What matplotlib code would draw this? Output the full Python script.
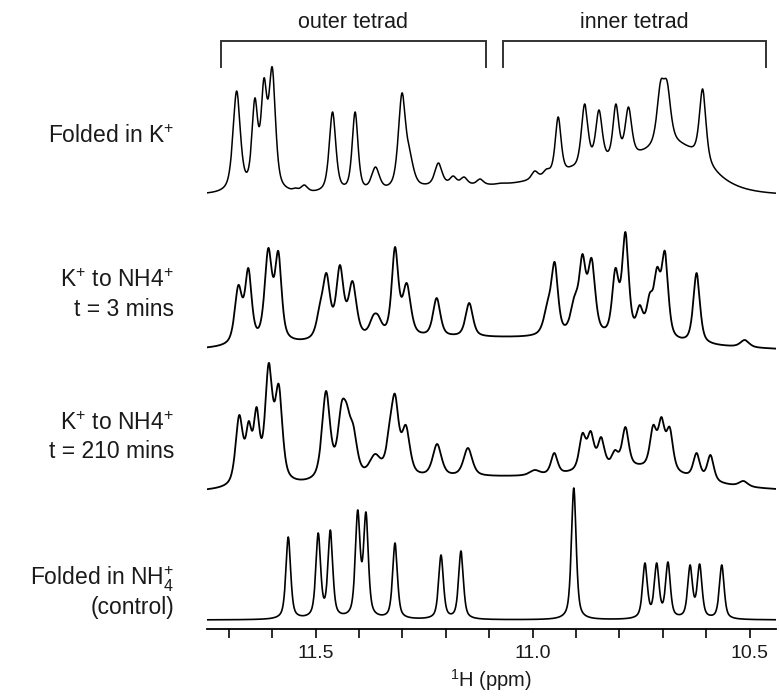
import numpy as np
import matplotlib.pyplot as plt

plt.rcParams["font.family"] = ["Liberation Sans", "DejaVu Sans"]
plt.rcParams["mathtext.fontset"] = "custom"
plt.rcParams["mathtext.rm"] = "Liberation Sans"
plt.rcParams["mathtext.it"] = "Liberation Sans:italic"

# Imino proton region, 1H chemical shift (ppm)
ppm_left, ppm_right = 11.751, 10.439
tick_ppm = [11.7, 11.6, 11.5, 11.4, 11.3, 11.2, 11.1, 11.0, 10.9, 10.8, 10.7, 10.6, 10.5]
tick_text = ["", "", "11.5", "", "", "", "", "11.0", "", "", "", "", "10.5"]

# Folded in K+ : peak shift, apex height, half width
k_shift = [11.682, 11.640, 11.619, 11.600, 11.546, 11.526, 11.461, 11.409, 11.362,
           11.301, 11.283, 11.217, 11.183, 11.158, 11.121, 11.070, 10.995, 10.968,
           10.941, 10.910, 10.880, 10.847, 10.808, 10.779, 10.705, 10.690, 10.608]
k_height = [104, 97, 117, 128, 7, 10, 83, 83, 28,
            102, 45, 32, 19, 18, 16, 12, 24, 26,
            78, 29, 91, 85, 91, 88, 114, 114, 106]
k_width = [0.010, 0.008, 0.008, 0.009, 0.007, 0.009, 0.009, 0.008, 0.011,
           0.010, 0.011, 0.010, 0.009, 0.009, 0.009, 0.011, 0.009, 0.009,
           0.008, 0.009, 0.009, 0.009, 0.008, 0.009, 0.010, 0.010, 0.009]
k_hump = [(10.76, 30, 0.13), (10.66, 25, 0.06), (11.2, 6, 0.08), (11.0, 8, 0.12)]

# K+ exchanged to NH4+, t = 3 min
t3_shift = [11.678, 11.655, 11.609, 11.586, 11.490, 11.475, 11.444, 11.415, 11.367,
            11.356, 11.317, 11.290, 11.221, 11.146, 10.965, 10.949, 10.903, 10.885,
            10.864, 10.809, 10.786, 10.753, 10.730, 10.713, 10.695, 10.622, 10.511]
t3_height = [68, 85, 105, 102, 50, 80, 88, 72, 38,
             38, 106, 70, 55, 50, 53, 91, 58, 99,
             95, 85, 121, 48, 60, 86, 102, 80, 13]
t3_width = [0.010, 0.009, 0.010, 0.009, 0.010, 0.010, 0.010, 0.011, 0.011,
            0.011, 0.009, 0.011, 0.010, 0.010, 0.011, 0.009, 0.011, 0.009,
            0.010, 0.009, 0.009, 0.009, 0.009, 0.009, 0.009, 0.009, 0.012]
t3_hump = [(11.1, 15, 0.4)]

# K+ exchanged to NH4+, t = 210 min
t210_shift = [11.676, 11.654, 11.636, 11.608, 11.585, 11.476, 11.440, 11.428, 11.413,
              11.363, 11.329, 11.317, 11.292, 11.220, 11.149, 10.995, 10.950, 10.885,
              10.866, 10.842, 10.810, 10.786, 10.722, 10.703, 10.684, 10.622, 10.590,
              10.514]
t210_height = [80, 74, 88, 132, 111, 104, 93, 91, 70,
               41, 75, 101, 70, 51, 47, 25, 42, 62,
               64, 58, 45, 68, 70, 78, 68, 42, 40,
               14]
t210_width = [0.010, 0.008, 0.008, 0.010, 0.010, 0.011, 0.011, 0.011, 0.011,
              0.016, 0.010, 0.010, 0.011, 0.012, 0.012, 0.014, 0.009, 0.009,
              0.009, 0.009, 0.009, 0.009, 0.009, 0.009, 0.009, 0.009, 0.009,
              0.012]
t210_hump = [(11.05, 18, 0.4), (10.76, 12, 0.1)]

# Folded in NH4+ (control)
nh4_shift = [11.563, 11.494, 11.466, 11.403, 11.384, 11.317, 11.211, 11.165,
             10.905, 10.741, 10.714, 10.688, 10.637, 10.615, 10.564]
nh4_height = [83, 87, 90, 110, 108, 77, 65, 69,
              132, 57, 57, 58, 55, 56, 55]
nh4_width = [0.0065] * len(nh4_shift)
nh4_hump = []

trace_labels = [
    ["Folded in K$^{\\mathregular{+}}$"],
    ["K$^{\\mathregular{+}}$ to NH4$^{\\mathregular{+}}$", "t = 3 mins"],
    ["K$^{\\mathregular{+}}$ to NH4$^{\\mathregular{+}}$", "t = 210 mins"],
    ["Folded in NH$_{\\mathregular{4}}^{\\mathregular{+}}$", "(control)"],
]
# vertical stacking (pixels above the axis line) and label baselines
offsets = [434, 276, 134, 9]
line_widths = [1.1, 1.3, 1.3, 1.2]
label_baselines = [[143], [287, 316], [430, 458], [585, 614]]


def pvoigt(x, x0, hw, eta=0.6):
    u = ((x - x0) / hw) ** 2
    return eta / (1 + u) + (1 - eta) * np.exp(-np.log(2) * u)


def hump(x, humps):
    y = np.zeros_like(x, dtype=float)
    for c, a, s in humps:
        y += a * np.exp(-0.5 * ((x - c) / s) ** 2)
    return y


def spectrum(x, shift, height, width, humps):
    shift = np.asarray(shift)
    width = np.asarray(width)
    base_at_peaks = hump(shift, humps)
    # amplitudes chosen so the summed curve reaches each apex height
    A = pvoigt(shift[:, None], shift[None, :], width[None, :])
    amps = np.linalg.solve(A, np.asarray(height) - base_at_peaks)
    amps = np.clip(amps, 0, None)
    y = hump(x, humps)
    for s, w, a in zip(shift, width, amps):
        y += a * pvoigt(x, s, w)
    return y


W, H = 779, 698
fig = plt.figure(figsize=(W / 100, H / 100), dpi=100)
ax = fig.add_axes([206.7 / W, (H - 629) / H, (776 - 206.7) / W, 629 / H])

x = np.linspace(ppm_right, ppm_left, 3000)
traces = [
    (k_shift, k_height, k_width, k_hump),
    (t3_shift, t3_height, t3_width, t3_hump),
    (t210_shift, t210_height, t210_width, t210_hump),
    (nh4_shift, nh4_height, nh4_width, nh4_hump),
]
for (sh, hh, ww, hu), off, lw in zip(traces, offsets, line_widths):
    ax.plot(x, off + spectrum(x, sh, hh, ww, hu), color="black", lw=lw)

ax.set_xlim(ppm_left, ppm_right)
ax.set_ylim(0, 629)
for side in ["top", "right", "left"]:
    ax.spines[side].set_visible(False)
ax.spines["bottom"].set_linewidth(1.3)
ax.set_yticks([])
ax.set_xticks(tick_ppm)
ax.set_xticklabels(tick_text)
ax.tick_params(axis="x", direction="out", length=6.5, width=1.3, pad=5,
               labelsize=14, colors="#1a1a1a")
ax.set_xlabel("$^{\\mathregular{1}}$H (ppm)", fontsize=14.5, color="#1a1a1a", labelpad=4)
ax.patch.set_visible(False)

# tetrad brackets
brackets = [(11.718, 11.108, "outer tetrad"), (11.069, 10.463, "inner tetrad")]
for a, b, name in brackets:
    ax.plot([a, a, b, b], [562, 588, 588, 562], color="#333333", lw=1.4,
            clip_on=False, solid_joinstyle="miter")
    ax.text((a + b) / 2, 607, name, ha="center", va="center", fontsize=15.5,
            color="#1a1a1a", clip_on=False)

for lines, ys in zip(trace_labels, label_baselines):
    for text, yb in zip(lines, ys):
        fig.text(174 / W, 1 - yb / H, text, ha="right", va="baseline",
                 fontsize=16.5, color="#1a1a1a")

fig.savefig("out.png", dpi=100)
